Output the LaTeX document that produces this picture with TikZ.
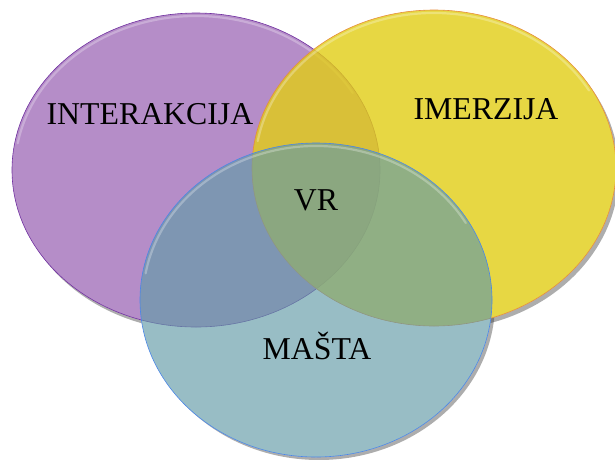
\documentclass[tikz,border=0pt]{standalone}
\usepackage{fontspec}
\setmainfont{Liberation Serif}
\definecolor{purpleF}{RGB}{181,141,200}
\definecolor{purpleD}{RGB}{112,48,160}
\definecolor{yellowF}{RGB}{226,205,20}
\definecolor{yellowD}{RGB}{230,140,60}
\definecolor{tealF}{RGB}{98,155,167}
\definecolor{tealD}{RGB}{74,134,232}
\tikzset{
  shade/.style={fill=black!60!gray, opacity=0.4},
  hilite/.style={draw=white, opacity=0.28, line width=2.2pt, line cap=round},
  lbl/.style={font=\fontsize{31.8}{36}\selectfont, anchor=base, inner sep=0pt}
}
\begin{document}
\begin{tikzpicture}[x=1pt,y=-1pt]
\useasboundingbox (0,0) rectangle (615,459);
% shadows
\fill[shade] (199,174) ellipse [x radius=184, y radius=157];
\fill[shade] (437,172) ellipse [x radius=182, y radius=158];
\fill[shade] (319,303) ellipse [x radius=176, y radius=157];
% white base so shadows show only at rims
\fill[white] (196,170) ellipse [x radius=184, y radius=157];
\fill[white] (434,168) ellipse [x radius=182, y radius=158];
\fill[white] (316,300) ellipse [x radius=176, y radius=157];
% purple
\fill[purpleF] (196,170) ellipse [x radius=184, y radius=157];
\draw[hilite] (196,170) ++(190:181 and 154) arc [start angle=190, end angle=330, x radius=181, y radius=154];
\draw[purpleD, line width=0.6pt] (196,170) ellipse [x radius=184, y radius=157];
% yellow
\fill[yellowF, opacity=0.8] (434,168) ellipse [x radius=182, y radius=158];
\draw[hilite] (434,168) ++(190:179 and 155) arc [start angle=190, end angle=330, x radius=179, y radius=155];
\draw[yellowD, line width=0.6pt] (434,168) ellipse [x radius=182, y radius=158];
% teal
\fill[tealF, opacity=0.65] (316,300) ellipse [x radius=176, y radius=157];
\draw[hilite] (316,300) ++(190:173 and 154) arc [start angle=190, end angle=330, x radius=173, y radius=154];
\draw[tealD, line width=0.6pt] (316,300) ellipse [x radius=176, y radius=157];
% labels
\node[lbl] (inter) at (150,124) {INTERAKCIJA};
\node[lbl] (imer) at (486,119) {IMERZIJA};
\node[lbl] (vr) at (316,210) {VR};
\node[lbl] (masta) at (317,359) {MAŠTA};
\end{tikzpicture}
\end{document}
